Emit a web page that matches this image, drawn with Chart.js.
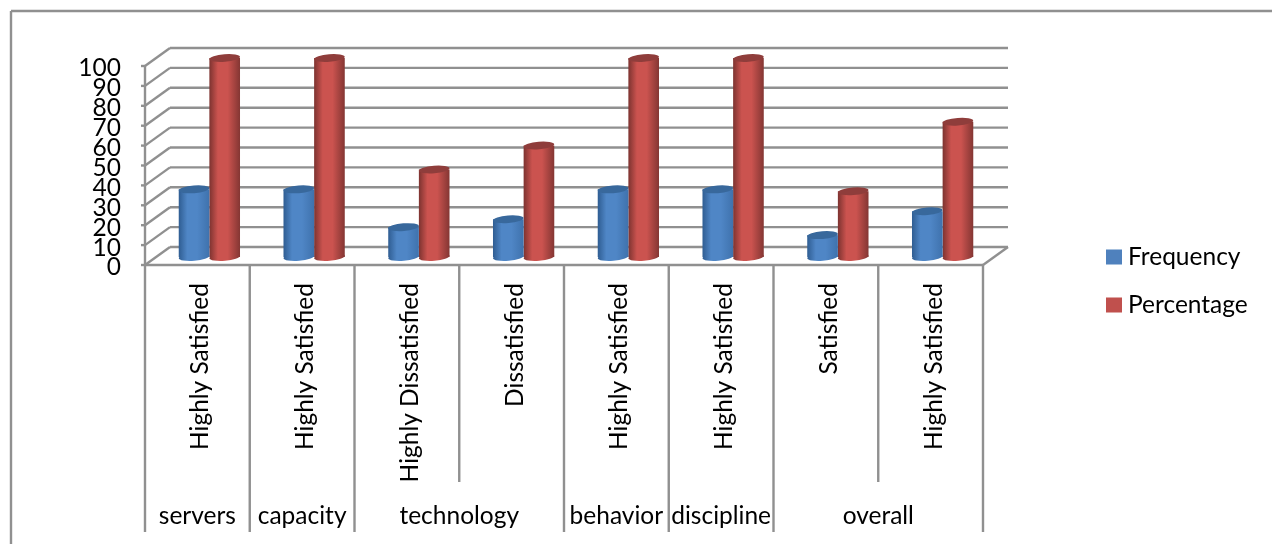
<!DOCTYPE html>
<html>
<head>
<meta charset="utf-8">
<style>
  html, body { margin: 0; padding: 0; background: #fff; }
  canvas { display: block; }
</style>
<script src="https://cdn.jsdelivr.net/npm/chart.js@4"></script>
</head>
<body>
<canvas id="surveyChart" width="1272" height="544"></canvas>
<script>
const categories = ["Highly Satisfied", "Highly Satisfied", "Highly Dissatisfied", "Dissatisfied",
  "Highly Satisfied", "Highly Satisfied", "Satisfied", "Highly Satisfied"];
const groups = ["servers", "capacity", "technology", "behavior", "discipline", "overall"];
const groupSpans = [1, 1, 2, 1, 1, 2];
const frequency = [34, 34, 15, 19, 34, 34, 11, 23];
const percentage = [100, 100, 44, 56, 100, 100, 33, 68];

const FONT = "Lato, 'Open Sans', sans-serif";
const GRID = "#909090";
const DEPTH_X = 25, DEPTH_Y = 18;   // back wall offset
const BAR_DX = 12, BAR_DY = 8;      // bars stand half way into the floor
const CAP_RY = 3.8, CAP_TILT = -0.08;

const colors = ["#4f81bd", "#c0504d"];
const shades = [
  { dark: "#2f5d92", light: "#4f86c6", end: "#3f72ad", cap: "#38689c" },
  { dark: "#7d3330", light: "#cb534f", end: "#843633", cap: "#8f3d3b" }
];

function line(ctx, x1, y1, x2, y2) {
  ctx.beginPath();
  ctx.moveTo(x1, y1);
  ctx.lineTo(x2, y2);
  ctx.stroke();
}

function barGradient(ctx, bar, s) {
  const l = bar.x - bar.width / 2, r = bar.x + bar.width / 2;
  const g = ctx.createLinearGradient(l, 0, r, 0);
  g.addColorStop(0, s.dark);
  g.addColorStop(0.28, s.light);
  g.addColorStop(0.6, s.light);
  g.addColorStop(1, s.end);
  return g;
}

// back wall, floor, the two level category grid and the legend
const walls = {
  id: "walls",
  beforeDatasetsDraw(chart) {
    const { ctx, chartArea: a, scales: { x, y } } = chart;
    ctx.save();
    ctx.strokeStyle = GRID;
    ctx.lineWidth = 2.4;

    // outer frame
    line(ctx, 11, 11, 1272, 11);
    line(ctx, 11, 11, 11, 544);

    y.ticks.forEach(t => {
      const py = y.getPixelForValue(t.value);
      line(ctx, a.left - 4, py, a.left, py);
      line(ctx, a.left, py, a.left + DEPTH_X, py - DEPTH_Y);
      line(ctx, a.left + DEPTH_X, py - DEPTH_Y, a.right + DEPTH_X, py - DEPTH_Y);
    });
    line(ctx, a.left, a.top, a.left, a.bottom);
    line(ctx, a.left, a.bottom, a.right, a.bottom);
    line(ctx, a.right, a.bottom, a.right + DEPTH_X, a.bottom - DEPTH_Y);

    // separators: full height at group edges, short inside a group
    const step = (a.right - a.left) / categories.length;
    const edges = new Set([0]);
    let n = 0;
    groupSpans.forEach(s => { n += s; edges.add(n); });
    for (let i = 0; i <= categories.length; i++) {
      const px = a.left + i * step;
      line(ctx, px, a.bottom, px, edges.has(i) ? 532 : 482);
    }

    // group names
    ctx.fillStyle = "#000";
    ctx.font = "24.5px " + FONT;
    ctx.textAlign = "center";
    ctx.textBaseline = "middle";
    n = 0;
    groups.forEach((g, i) => {
      const mid = a.left + (n + groupSpans[i] / 2) * step;
      ctx.fillText(g, mid, 516);
      n += groupSpans[i];
    });

    // legend
    ctx.textAlign = "left";
    chart.data.datasets.forEach((ds, i) => {
      const ly = 257 + i * 48;
      ctx.fillStyle = colors[i];
      ctx.fillRect(1106, ly - 7.5, 16, 15);
      ctx.fillStyle = "#000";
      ctx.fillText(ds.label, 1128, ly);
    });
    ctx.restore();

    // bar fills and their round feet
    ctx.save();
    ctx.translate(BAR_DX, -BAR_DY);
    chart.data.datasets.forEach((ds, di) => {
      chart.getDatasetMeta(di).data.forEach(bar => {
        const fill = barGradient(ctx, bar, shades[di]);
        bar.options.backgroundColor = fill;
        ctx.fillStyle = fill;
        ctx.beginPath();
        ctx.ellipse(bar.x, bar.base, bar.width / 2, CAP_RY, CAP_TILT, 0, Math.PI * 2);
        ctx.fill();
      });
    });
    ctx.restore();

    ctx.save();
    ctx.translate(BAR_DX, -BAR_DY);
  },
  afterDatasetsDraw(chart) {
    const { ctx } = chart;
    // tops of the cylinders
    chart.data.datasets.forEach((ds, di) => {
      chart.getDatasetMeta(di).data.forEach(bar => {
        ctx.fillStyle = shades[di].cap;
        ctx.beginPath();
        ctx.ellipse(bar.x, bar.y, bar.width / 2, CAP_RY, CAP_TILT, 0, Math.PI * 2);
        ctx.fill();
      });
    });
    ctx.restore();
  }
};

new Chart(document.getElementById("surveyChart"), {
  type: "bar",
  data: {
    labels: categories,
    datasets: [
      // scriptable so every bar keeps its own options and can carry a gradient
      { label: "Frequency", data: frequency, backgroundColor: () => colors[0], borderWidth: 0 },
      { label: "Percentage", data: percentage, backgroundColor: () => colors[1], borderWidth: 0 }
    ]
  },
  plugins: [walls],
  options: {
    responsive: false,
    animation: false,
    layout: { padding: { top: 66, left: 0, right: 289, bottom: 0 } },
    datasets: { bar: { categoryPercentage: 0.585, barPercentage: 1 } },
    scales: {
      x: {
        grid: { display: false, drawTicks: false },
        border: { display: false },
        ticks: {
          autoSkip: false, minRotation: 90, maxRotation: 90, padding: 18, labelOffset: 3,
          color: "#000", font: { family: FONT, size: 24.5 }
        },
        afterFit(scale) { scale.height = 279; }
      },
      y: {
        min: 0, max: 100,
        grid: { display: false, drawTicks: false },
        border: { display: false },
        ticks: {
          stepSize: 10, autoSkip: false, padding: 24, labelOffset: 2.5, color: "#000",
          font: { family: FONT, size: 24.5 }
        },
        afterFit(scale) { scale.width = 145; }
      }
    },
    plugins: {
      tooltip: { enabled: false },
      legend: { display: false }
    }
  }
});
</script>
</body>
</html>
